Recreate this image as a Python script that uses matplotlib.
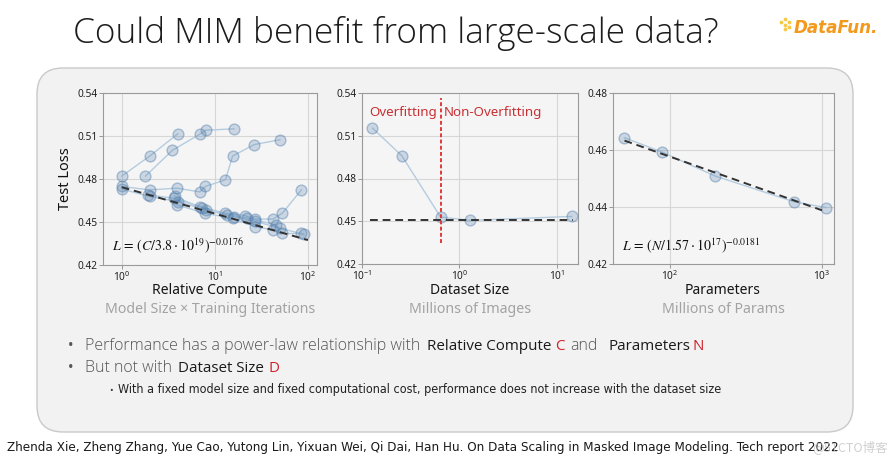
import numpy as np
import matplotlib
matplotlib.use('Agg')
import matplotlib.pyplot as plt
from matplotlib.patches import FancyBboxPatch
from matplotlib.ticker import NullLocator, FormatStrFormatter

# ---- data ----
# left panel: relative compute vs test loss, one list per training run
compute = [
    [1, 2, 4],
    [1.8, 3.5, 7, 8, 16],
    [1, 2, 3.9, 6.9, 7.9, 13, 15.5, 26.5, 50],
    [1, 2, 4, 8, 16, 27, 50, 90],
    [1.9, 3.6, 7, 13, 21, 27, 42, 53, 85],
    [3.9, 7.9, 15.5, 27, 42, 53, 85],
    [3.7, 7.2, 13.5, 22, 45],
]
compute_loss = [
    [0.482, 0.496, 0.5115],
    [0.482, 0.500, 0.5115, 0.514, 0.515],
    [0.4748, 0.4724, 0.4736, 0.471, 0.4748, 0.4794, 0.496, 0.504, 0.5074],
    [0.473, 0.4678, 0.4643, 0.4585, 0.4538, 0.4505, 0.4457, 0.4414],
    [0.469, 0.4666, 0.4608, 0.456, 0.4545, 0.452, 0.452, 0.4561, 0.4724],
    [0.462, 0.4561, 0.4525, 0.4468, 0.4445, 0.442, 0.442],
    [0.468, 0.4595, 0.455, 0.453, 0.448],
]
compute_fit = (1.0, 0.4743, -0.0176)       # anchor C, anchor L, exponent

# middle panel: dataset size (millions of images)
dataset_size = [0.128, 0.256, 0.64, 1.28, 14.2]
dataset_loss = [0.5154, 0.496, 0.453, 0.4506, 0.4534]
dataset_flat = 0.4506
overfit_split = 0.64

# right panel: parameters (millions)
params = [50, 88, 197, 658, 1060]
params_loss = [0.4643, 0.4593, 0.4509, 0.4418, 0.4398]
params_fit = (50.0, 0.4633, -0.0181)

PT_FACE = (0.33, 0.50, 0.68, 0.26)
PT_EDGE = (0.33, 0.50, 0.68, 0.45)
LINE_C = '#b5cce0'
plt.rcParams['font.family'] = ['Noto Sans', 'DejaVu Sans']

fig = plt.figure(figsize=(8.9, 4.59), dpi=100)
bg = fig.add_axes([0, 0, 1, 1])
bg.set_xlim(0, 890)
bg.set_ylim(459, 0)
bg.axis('off')
bg.add_patch(FancyBboxPatch((37, 68), 816, 364, boxstyle='round,pad=0,rounding_size=26',
                            fc='#f2f2f2', ec='#c9c9c9', lw=1))
renderer = fig.canvas.get_renderer()


def fit(t, width):
    w = t.get_window_extent(renderer).width
    t.set_fontsize(t.get_fontsize() * width / w)
    return t


def style(ax, yticks):
    ax.set_facecolor('#f5f5f5')
    for s in ax.spines.values():
        s.set_color('#9a9a9a')
        s.set_linewidth(0.8)
    ax.grid(True, color='#d6d6d6', lw=0.8)
    ax.set_axisbelow(True)
    ax.set_xscale('log')
    ax.xaxis.set_minor_locator(NullLocator())
    ax.set_yticks(yticks)
    ax.set_ylim(yticks[0], yticks[-1])
    ax.yaxis.set_major_formatter(FormatStrFormatter('%.2f'))
    ax.tick_params(labelsize=7.3, labelcolor='#222', color='#888', length=3, width=0.6, pad=1)


def points(ax, x, y):
    ax.plot(x, y, '-', color=LINE_C, lw=1, zorder=2)
    ax.scatter(x, y, s=60, fc=PT_FACE, ec=PT_EDGE, lw=1, zorder=3)


# panel 1
ax1 = fig.add_axes([103 / 890, 1 - 265 / 459, 214 / 890, 172 / 459])
style(ax1, [0.42, 0.45, 0.48, 0.51, 0.54])
for x, y in zip(compute, compute_loss):
    points(ax1, x, y)
cx = np.array([1, 100])
ax1.plot(cx, compute_fit[1] * (cx / compute_fit[0]) ** compute_fit[2], color='#333', lw=1.4,
         dashes=(4, 2.5), zorder=4)
ax1.set_xlim(0.63, 125)
ax1.set_xticks([1, 10, 100])
ax1.set_ylabel('Test Loss', fontsize=10.5, color='#111')
ax1.yaxis.set_label_coords(-0.14, 0.5)
ax1.text(0.04, 0.11, r'$L\,=\,(C/3.8\cdot10^{19})^{-0.0176}$', transform=ax1.transAxes,
         fontsize=10, math_fontfamily='stix', color='#111', va='center')

# panel 2
ax2 = fig.add_axes([362 / 890, 1 - 264 / 459, 216 / 890, 171 / 459])
style(ax2, [0.42, 0.45, 0.48, 0.51, 0.54])
points(ax2, dataset_size, dataset_loss)
ax2.plot([0.12, 14.5], [dataset_flat, dataset_flat], color='#333', lw=1.4, dashes=(4, 2.5), zorder=4)
ax2.plot([overfit_split, overfit_split], [0.435, 0.5365], color='#e03a3a', lw=1.4,
         dashes=(2, 1.2), zorder=5)
ax2.text(overfit_split * 0.93, 0.5265, 'Overfitting', color='#c92f33', fontsize=9.6,
         ha='right', va='center')
ax2.text(overfit_split * 1.08, 0.5265, 'Non-Overfitting', color='#c92f33', fontsize=9.6,
         ha='left', va='center')
ax2.set_xlim(0.1, 16.5)
ax2.set_xticks([0.1, 1, 10])

# panel 3
ax3 = fig.add_axes([613 / 890, 1 - 264 / 459, 221 / 890, 171 / 459])
style(ax3, [0.42, 0.44, 0.46, 0.48])
points(ax3, params, params_loss)
px = np.array([50, 1000])
ax3.plot(px, params_fit[1] * (px / params_fit[0]) ** params_fit[2], color='#333', lw=1.4,
         dashes=(4, 2.5), zorder=4)
ax3.set_xlim(42, 1200)
ax3.set_xticks([100, 1000])
ax3.text(0.04, 0.11, r'$L\,=\,(N/1.57\cdot10^{17})^{-0.0181}$', transform=ax3.transAxes,
         fontsize=10, math_fontfamily='stix', color='#111', va='center')

# axis captions
caps = [(210, 'Relative Compute', 'Model Size × Training Iterations'),
        (470, 'Dataset Size', 'Millions of Images'),
        (723, 'Parameters', 'Millions of Params')]
for xc, main, sub in caps:
    bg.text(xc, 294, main, ha='center', va='baseline', fontsize=10, color='#151515')
    bg.text(xc, 313, sub, ha='center', va='baseline', fontsize=10.2, color='#a3a3a3')

# title
t = bg.text(73, 43, 'Could MIM benefit from large-scale data?', fontsize=24,
            family=['Open Sans', 'DejaVu Sans'], weight='light', color='#1c1c1c', va='baseline')
fit(t, 649)

# logo
lg = bg.text(794, 33, 'DataFun.', fontsize=15, family='DejaVu Sans', weight='bold',
             style='italic', color='#f39a1e', va='baseline')
fit(lg, 85)
bg.scatter([785, 789, 785, 781, 789, 785], [19, 22, 25, 22, 27, 29], s=3, color='#f7c948', zorder=5)

# bullets
GRAY = '#555555'
DARK = '#1a1a1a'
RED = '#d0202a'
BF = ['Open Sans', 'DejaVu Sans']
g1 = bg.text(85, 350, 'Performance has a power-law relationship with', family=BF, weight='light',
             fontsize=13, color=GRAY, va='baseline')
fit(g1, 337)
gs = g1.get_fontsize()
d1 = bg.text(427, 350, 'Relative Compute', family=BF, fontsize=13, color=DARK, va='baseline')
fit(d1, 124)
ds = d1.get_fontsize()
bg.text(555, 350, 'C', family=BF, fontsize=ds, color=RED, va='baseline')
bg.text(570, 350, 'and', family=BF, weight='light', fontsize=gs, color=GRAY, va='baseline')
bg.text(608, 350, 'Parameters', family=BF, fontsize=ds, color=DARK, va='baseline')
bg.text(693, 350, 'N', family=BF, fontsize=ds, color=RED, va='baseline')
bg.text(85, 372, 'But not with', family=BF, weight='light', fontsize=gs, color=GRAY, va='baseline')
bg.text(178, 372, 'Dataset Size', family=BF, fontsize=ds, color=DARK, va='baseline')
bg.text(268, 372, 'D', family=BF, fontsize=ds, color=RED, va='baseline')
for yb in (350, 372):
    bg.text(68, yb, '•', fontsize=gs * 0.9, color=GRAY, va='baseline')
bg.text(109, 393, '•', fontsize=7, color='#333', va='baseline')
s3 = bg.text(118, 393, 'With a fixed model size and fixed computational cost, performance does not '
             'increase with the dataset size', family='DejaVu Sans', stretch='condensed',
             fontsize=8, color='#222', va='baseline')
fit(s3, 602)

# footer
ft = bg.text(7, 451, 'Zhenda Xie, Zheng Zhang, Yue Cao, Yutong Lin, Yixuan Wei, Qi Dai, Han Hu. '
             'On Data Scaling in Masked Image Modeling. Tech report 2022',
             family='DejaVu Sans', stretch='condensed', fontsize=9, color='#1a1a1a',
             va='baseline')
fit(ft, 833)
bg.text(812, 451, '@51CTO博客', family=['Noto Sans CJK SC', 'DejaVu Sans'], fontsize=9,
        color='#c4c4c4', alpha=0.8, va='baseline')

fig.savefig('out.png', dpi=100)
